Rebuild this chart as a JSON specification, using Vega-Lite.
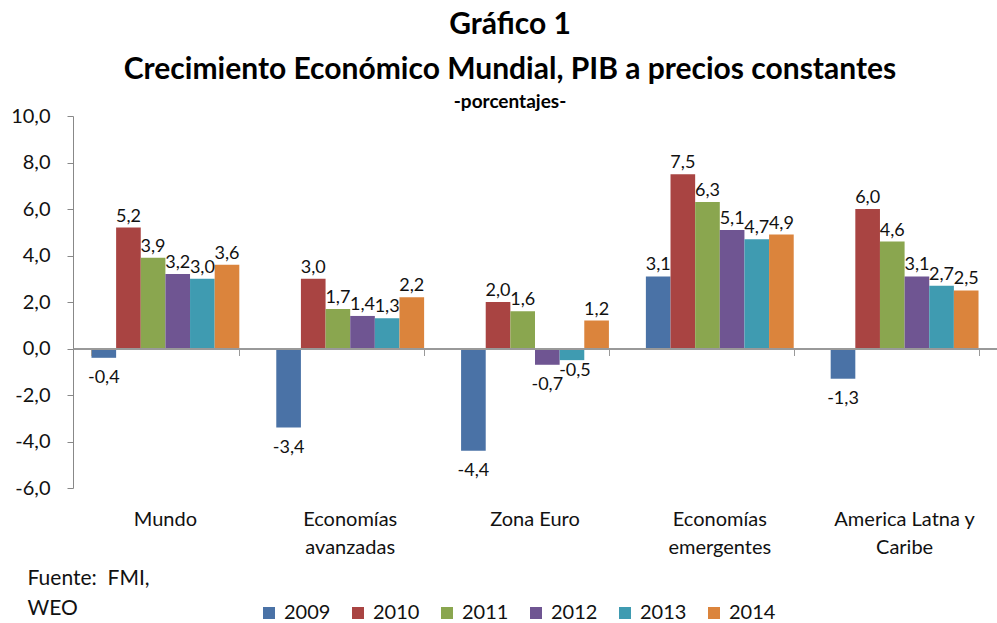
{
  "$schema": "https://vega.github.io/schema/vega-lite/v6.json",
  "width": 924,
  "height": 372,
  "autosize": {"type": "none"},
  "padding": {"left": 73, "top": 116, "right": 0, "bottom": 135},
  "background": "white",
  "config": {
    "font": "Lato",
    "locale": {"number": {"decimal": ",", "thousands": ".", "grouping": [3], "currency": ["", ""], "minus": "-"}},
    "view": {"stroke": null}
  },
  "title": {
    "text": ["Gráfico  1", "Crecimiento Económico Mundial, PIB a precios constantes"],
    "subtitle": "-porcentajes-",
    "fontSize": 30,
    "fontWeight": "bold",
    "lineHeight": 45,
    "subtitleFontSize": 19,
    "subtitleFontWeight": "bold",
    "subtitleColor": "black",
    "subtitlePadding": 8,
    "color": "black",
    "anchor": "middle",
    "dx": -25,
    "offset": -6
  },
  "data": {
    "values": [
      {"region": "Mundo", "year": "2009", "value": -0.4},
      {"region": "Mundo", "year": "2010", "value": 5.2},
      {"region": "Mundo", "year": "2011", "value": 3.9},
      {"region": "Mundo", "year": "2012", "value": 3.2},
      {"region": "Mundo", "year": "2013", "value": 3.0},
      {"region": "Mundo", "year": "2014", "value": 3.6},
      {"region": "Economías avanzadas", "year": "2009", "value": -3.4},
      {"region": "Economías avanzadas", "year": "2010", "value": 3.0},
      {"region": "Economías avanzadas", "year": "2011", "value": 1.7},
      {"region": "Economías avanzadas", "year": "2012", "value": 1.4},
      {"region": "Economías avanzadas", "year": "2013", "value": 1.3},
      {"region": "Economías avanzadas", "year": "2014", "value": 2.2},
      {"region": "Zona Euro", "year": "2009", "value": -4.4},
      {"region": "Zona Euro", "year": "2010", "value": 2.0},
      {"region": "Zona Euro", "year": "2011", "value": 1.6},
      {"region": "Zona Euro", "year": "2012", "value": -0.7},
      {"region": "Zona Euro", "year": "2013", "value": -0.5},
      {"region": "Zona Euro", "year": "2014", "value": 1.2},
      {"region": "Economías emergentes", "year": "2009", "value": 3.1},
      {"region": "Economías emergentes", "year": "2010", "value": 7.5},
      {"region": "Economías emergentes", "year": "2011", "value": 6.3},
      {"region": "Economías emergentes", "year": "2012", "value": 5.1},
      {"region": "Economías emergentes", "year": "2013", "value": 4.7},
      {"region": "Economías emergentes", "year": "2014", "value": 4.9},
      {"region": "America Latna y Caribe", "year": "2009", "value": -1.3},
      {"region": "America Latna y Caribe", "year": "2010", "value": 6.0},
      {"region": "America Latna y Caribe", "year": "2011", "value": 4.6},
      {"region": "America Latna y Caribe", "year": "2012", "value": 3.1},
      {"region": "America Latna y Caribe", "year": "2013", "value": 2.7},
      {"region": "America Latna y Caribe", "year": "2014", "value": 2.5}
    ]
  },
  "layer": [
    {
      "mark": {"type": "bar"},
      "encoding": {
        "x": {
          "field": "region", "type": "nominal", "sort": null,
          "scale": {"paddingInner": 0.2, "paddingOuter": 0.1},
          "axis": {
            "orient": "bottom", "domain": false, "ticks": false, "labelAngle": 0,
            "labelFontSize": 20, "labelColor": "#111", "labelPadding": 21, "labelLineHeight": 28,
            "labelExpr": "datum.label == 'Economías avanzadas' ? ['Economías', 'avanzadas'] : datum.label == 'Economías emergentes' ? ['Economías', 'emergentes'] : datum.label == 'America Latna y Caribe' ? ['America Latna y', 'Caribe'] : datum.label",
            "title": ["Fuente:\u00a0\u00a0FMI,", "WEO"],
            "titleFontSize": 21, "titleFontWeight": "normal", "titleColor": "#111",
            "titleAnchor": "start", "titleAlign": "left", "titleBaseline": "alphabetic",
            "titleLineHeight": 30, "titleX": -46, "titleY": 96
          }
        },
        "xOffset": {"field": "year", "type": "nominal"},
        "y": {
          "field": "value", "type": "quantitative",
          "scale": {"domain": [-6, 10], "nice": false, "zero": false},
          "axis": {
            "values": [-6, -4, -2, 0, 2, 4, 6, 8, 10], "format": ".1f", "grid": false,
            "domainColor": "#888", "tickColor": "#888", "tickSize": 6,
            "labelFontSize": 20, "labelColor": "#111", "labelPadding": 17, "title": null
          }
        },
        "color": {
          "field": "year", "type": "nominal",
          "scale": {"domain": ["2009", "2010", "2011", "2012", "2013", "2014"],
                    "range": ["#4A72A6", "#A94442", "#8AA64F", "#6F5592", "#3F9BB1", "#DB843C"]},
          "legend": {
            "orient": "none", "legendX": 186, "legendY": 487, "direction": "horizontal",
            "title": null, "symbolType": "square", "symbolSize": 144, "symbolStrokeWidth": 0,
            "labelFontSize": 20, "labelColor": "#111", "columnPadding": 17, "labelOffset": 5
          }
        }
      }
    },
    {
      "transform": [{"filter": "datum.value >= 0"}],
      "mark": {"type": "text", "baseline": "bottom", "dy": -2, "fontSize": 18, "color": "#111"},
      "encoding": {
        "x": {
          "field": "region", "type": "nominal", "sort": null,
          "axis": {
            "orient": "bottom", "offset": -139.5, "labels": false, "domain": true,
            "domainColor": "#999", "domainWidth": 2, "ticks": true, "tickBand": "extent",
            "tickColor": "#999", "tickSize": 7, "title": null, "zindex": 1
          }
        },
        "xOffset": {"field": "year", "type": "nominal"},
        "y": {"field": "value", "type": "quantitative"},
        "text": {"field": "value", "type": "quantitative", "format": ".1f"}
      }
    },
    {
      "transform": [{"filter": "datum.value < 0 && !(datum.region == 'Zona Euro' && datum.year == '2013')"}],
      "mark": {"type": "text", "baseline": "top", "dy": 11, "fontSize": 18, "color": "#111"},
      "encoding": {
        "x": {"field": "region", "type": "nominal", "sort": null, "axis": null},
        "xOffset": {"field": "year", "type": "nominal"},
        "y": {"field": "value", "type": "quantitative"},
        "text": {"field": "value", "type": "quantitative", "format": ".1f"}
      }
    },
    {
      "transform": [{"filter": "datum.region == 'Zona Euro' && datum.year == '2013'"}],
      "mark": {"type": "text", "baseline": "top", "dy": 2, "dx": 3, "fontSize": 18, "color": "#111"},
      "encoding": {
        "x": {"field": "region", "type": "nominal", "sort": null, "axis": null},
        "xOffset": {"field": "year", "type": "nominal"},
        "y": {"field": "value", "type": "quantitative"},
        "text": {"field": "value", "type": "quantitative", "format": ".1f"}
      }
    }
  ],
  "resolve": {"axis": {"x": "independent"}}
}
